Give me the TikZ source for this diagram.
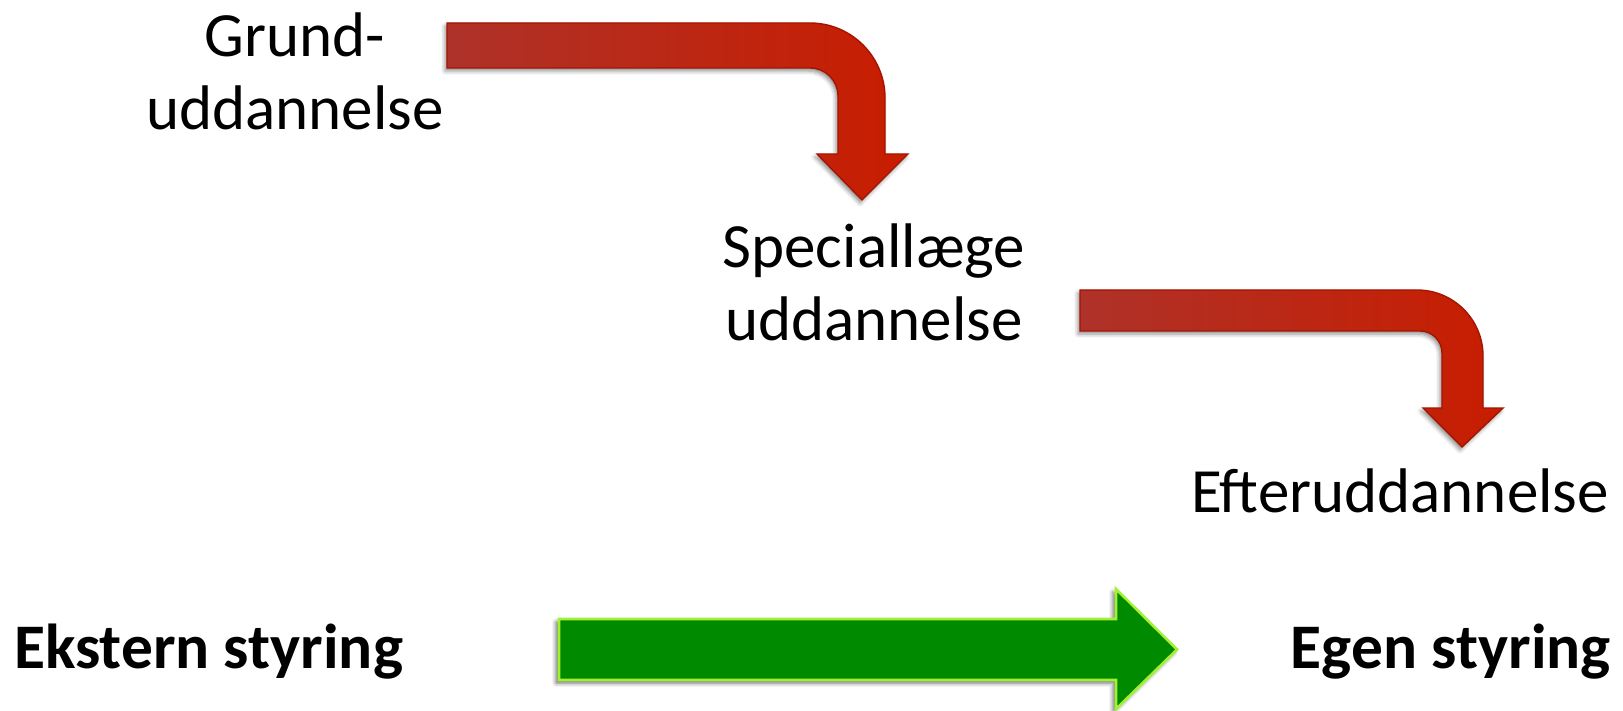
\documentclass[tikz,border=0pt]{standalone}
\usepackage{fontspec}
\setmainfont{Carlito}
\usetikzlibrary{shadows.blur}

\definecolor{redleft}{HTML}{AE3229}
\definecolor{redright}{HTML}{C81D00}
\definecolor{redline}{HTML}{A51400}
\definecolor{greenfill}{HTML}{008A00}
\definecolor{greenline}{HTML}{A2F032}

\tikzset{
  stage/.style={inner sep=0pt, align=center, font=\fontsize{63}{73}\selectfont},
  pole/.style={inner sep=0pt, font=\fontsize{63.5}{73}\selectfont\bfseries},
  bentarrow/.style={left color=redleft, right color=redright, draw=redline,
    line width=1.4pt, line join=miter,
    blur shadow={shadow xshift=-2pt, shadow yshift=-3pt,
                 shadow blur radius=4pt, shadow opacity=45}},
  flowarrow/.style={fill=greenfill, draw=greenline, line width=2.6pt,
    line join=miter,
    blur shadow={shadow xshift=-3pt, shadow yshift=-3pt,
                 shadow blur radius=4pt, shadow opacity=60}}
}

\begin{document}
\begin{tikzpicture}[x=1pt, y=-1pt]
  \useasboundingbox (0,0) rectangle (1623,711);

  % stages of the training (base = baseline of the last line)
  \node[stage, anchor=base] (grund)   at (295,130)  {Grund-\\uddannelse};
  \node[stage, anchor=base] (special) at (874,341)  {Speciallæge\\uddannelse};
  \node[stage, anchor=base] (efter)   at (1400,512) {Efteruddannelse};

  % from external to own control
  \node[pole, anchor=base west] (ekstern) at (14,668)   {Ekstern styring};
  \node[pole, anchor=base east] (egen)    at (1611,668) {Egen styring};

  % bent arrow: basic -> specialist training
  \path[bentarrow]
    (447,23) -- (810,23)
    .. controls (851.4,23) and (885,56.6) .. (885,98)
    -- (885,154) -- (908,154) -- (862,200) -- (817,154) -- (838,154)
    -- (838,96)
    .. controls (838,80.5) and (825.5,68) .. (810,68)
    -- (447,68) -- cycle;

  % bent arrow: specialist -> continuing training
  \path[bentarrow]
    (1080,290) -- (1417,290)
    .. controls (1453.5,290) and (1483,319.5) .. (1483,356)
    -- (1483,408) -- (1503,408) -- (1462,447) -- (1423,408) -- (1442,408)
    -- (1442,353)
    .. controls (1442,340.8) and (1432.2,331) .. (1420,331)
    -- (1080,331) -- cycle;

  % straight arrow along the bottom
  \path[flowarrow]
    (559,619) -- (1116,619) -- (1116,589) -- (1177,649.5)
    -- (1116,709) -- (1116,680) -- (559,680) -- cycle;
\end{tikzpicture}
\end{document}
